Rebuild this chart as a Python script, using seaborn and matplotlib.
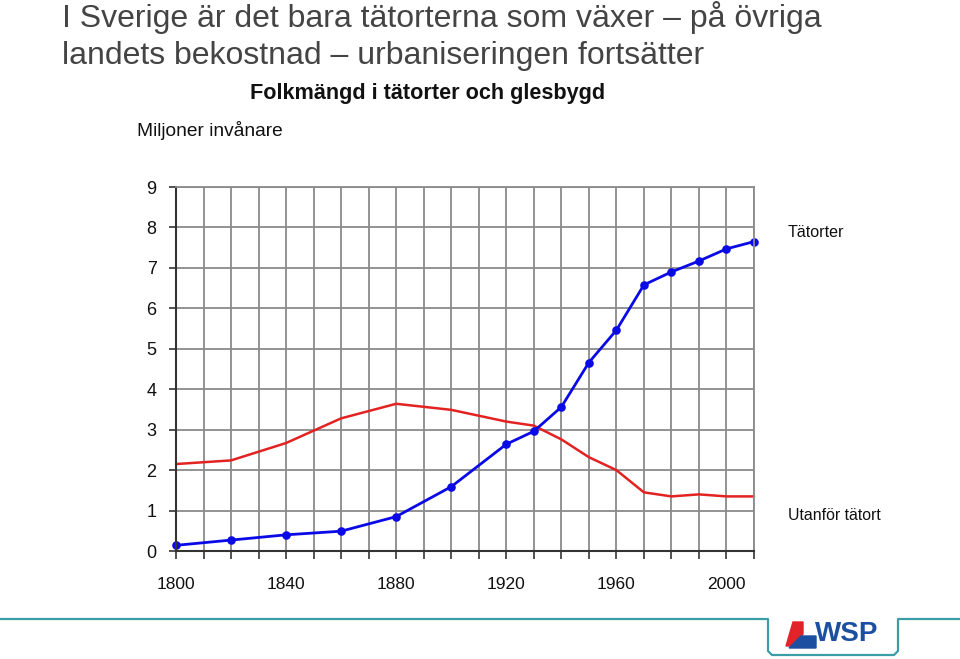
import matplotlib
matplotlib.use("Agg")
import matplotlib.pyplot as plt
import seaborn as sns
import pandas as pd
from matplotlib.lines import Line2D
from matplotlib.patches import Polygon

# ---- data ----
years = [1800, 1820, 1840, 1860, 1880, 1900, 1920, 1930, 1940, 1950, 1960, 1970, 1980, 1990, 2000, 2010]
tatorter = [0.14, 0.27, 0.40, 0.49, 0.85, 1.59, 2.64, 2.96, 3.56, 4.66, 5.46, 6.58, 6.90, 7.17, 7.47, 7.65]
utanfor = [2.15, 2.24, 2.67, 3.28, 3.64, 3.49, 3.20, 3.10, 2.76, 2.32, 2.00, 1.45, 1.35, 1.40, 1.35, 1.35]
series_names = ["Tätorter", "Utanför tätort"]
x_ticks = list(range(1800, 2011, 10))
x_labels = [str(y) if (y - 1800) % 40 == 0 else "" for y in x_ticks]
y_ticks = list(range(0, 10))

title_lines = ["I Sverige är det bara tätorterna som växer – på övriga",
               "landets bekostnad – urbaniseringen fortsätter"]
subtitle = "Folkmängd i tätorter och glesbygd"
ylabel = "Miljoner invånare"

df = pd.DataFrame({
    "year": years * 2,
    "value": tatorter + utanfor,
    "series": [series_names[0]] * len(years) + [series_names[1]] * len(years),
})

sns.set_theme(style="white")
plt.rcParams["font.family"] = ["Liberation Sans", "DejaVu Sans"]

W, H = 960, 659
fig = plt.figure(figsize=(W / 100, H / 100), dpi=100)

def fx(x):
    return x / W

def fy(y):
    return 1 - y / H

ax = fig.add_axes([fx(176), fy(551), fx(754) - fx(176), fy(187) - fy(551)])

grid_c = "#8a8a8a"
ax.set_xlim(1800, 2010)
ax.set_ylim(0, 9)
ax.set_xticks(x_ticks)
ax.set_xticklabels(x_labels)
ax.set_yticks(y_ticks)
ax.grid(True, color=grid_c, linewidth=1.3)
ax.set_axisbelow(True)

sns.lineplot(data=df[df.series == series_names[1]], x="year", y="value",
             color="#e32222", linewidth=1.8, ax=ax, legend=False)
sns.lineplot(data=df[df.series == series_names[0]], x="year", y="value",
             color="#0a0ae6", linewidth=2.0, marker="o", markersize=6.2,
             markeredgewidth=0, ax=ax, legend=False)
for ln in ax.lines:
    ln.set_clip_on(False)

ax.set_xlabel("")
ax.set_ylabel("")
for s in ["top", "right"]:
    ax.spines[s].set_color(grid_c)
    ax.spines[s].set_linewidth(1.3)
for s in ["left", "bottom"]:
    ax.spines[s].set_color("#333333")
    ax.spines[s].set_linewidth(1.5)
ax.tick_params(axis="x", direction="out", length=6, width=1.2, color="#333333",
               pad=13, labelsize=12.5, labelcolor="#111111")
ax.tick_params(axis="y", direction="out", length=5, width=1.2, color="#333333",
               pad=9, labelsize=13, labelcolor="#111111")
ax.tick_params(bottom=True, left=True)

# ---- texts ----
fig.text(fx(62), fy(27), title_lines[0], fontsize=23, color="#444444", va="baseline", ha="left")
fig.text(fx(62), fy(64), title_lines[1], fontsize=23, color="#444444", va="baseline", ha="left")
fig.text(fx(428), fy(94), subtitle, fontsize=15.6, fontweight="bold", color="#111111", va="center", ha="center")
fig.text(fx(137), fy(131), ylabel, fontsize=13.8, color="#111111", va="center", ha="left")
fig.text(fx(788), fy(232), series_names[0], fontsize=11.6, color="#111111", va="center", ha="left")
fig.text(fx(788), fy(515), series_names[1], fontsize=11.4, color="#111111", va="center", ha="left")

# ---- bottom decoration ----
teal = "#3b9ea6"
xs = [0, 768, 768, 772, 894, 898, 898, 960]
ys = [619, 619, 651, 655, 655, 651, 619, 619]
fig.add_artist(Line2D([fx(v) for v in xs], [fy(v) for v in ys], color=teal, linewidth=1.6))

# logo
red_poly = [(786, 646), (793, 622), (803, 622), (803, 634), (795, 646)]
blue_poly = [(789, 648), (801, 636), (816, 636), (816, 648)]
fig.add_artist(Polygon([(fx(a), fy(b)) for a, b in red_poly], closed=True, color="#e2232a",
                       transform=fig.transFigure))
fig.add_artist(Polygon([(fx(a), fy(b)) for a, b in blue_poly], closed=True, color="#1c4fa0",
                       transform=fig.transFigure))
fig.text(fx(815), fy(634), "WSP", fontsize=20, fontweight="bold", color="#1c4fa0", va="center", ha="left")

fig.savefig("out.png", dpi=100, facecolor="white")
